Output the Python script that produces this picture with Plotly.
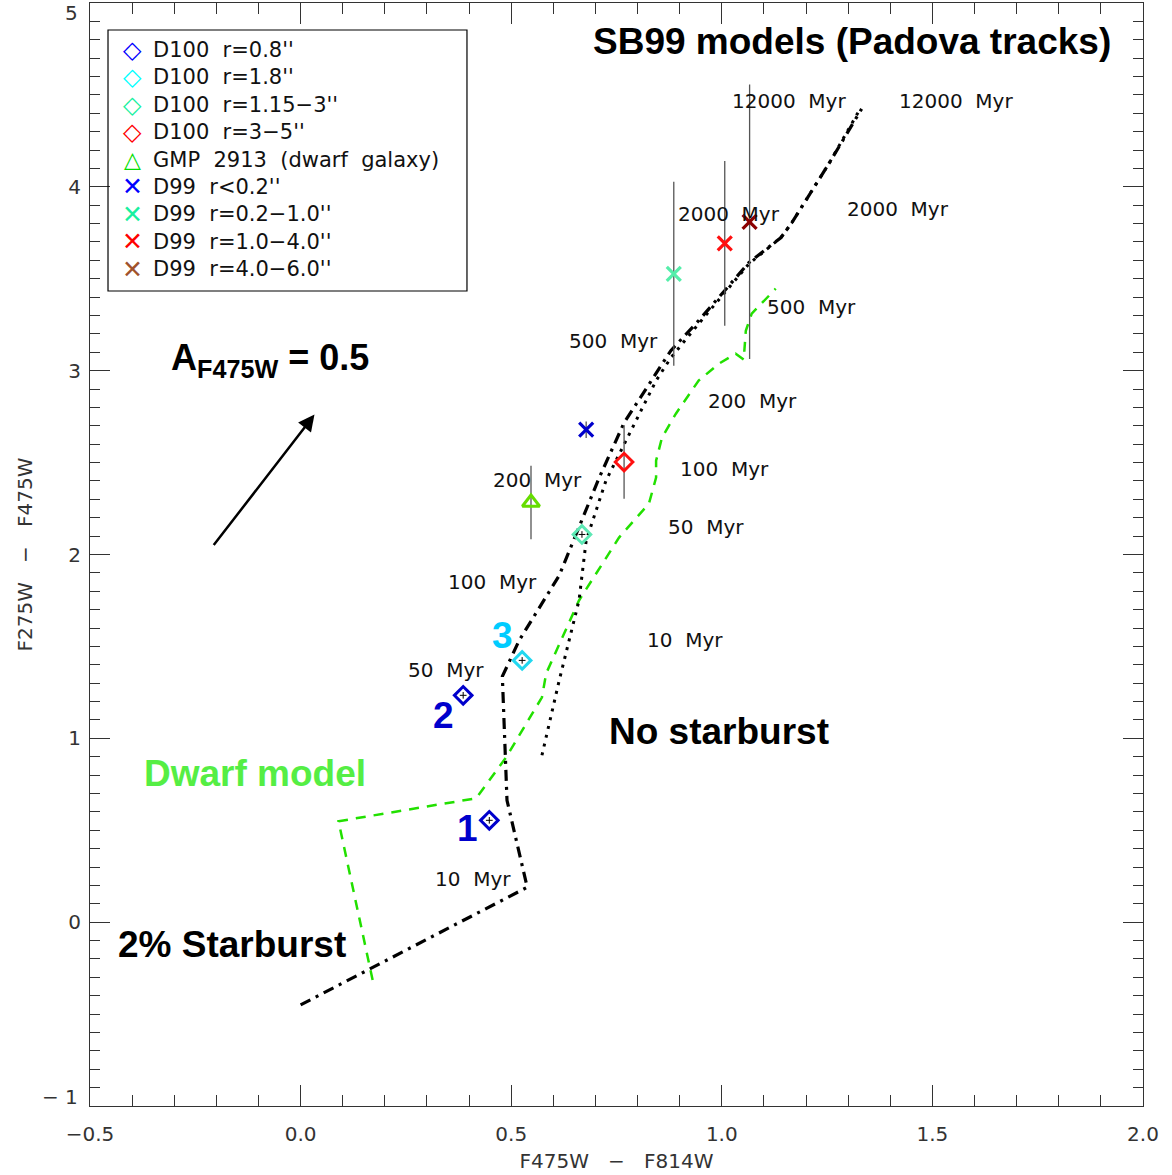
import plotly.graph_objects as go

# ---------------- model tracks ----------------
sb99_x = [0.0, 0.538, 0.49, 0.479, 0.519, 0.614, 0.709, 0.768, 0.879, 0.945, 1.064, 1.14, 1.166, 1.254, 1.332]
sb99_y = [-0.45, 0.19, 0.663, 1.337, 1.533, 1.886, 2.418, 2.717, 3.109, 3.272, 3.587, 3.723, 3.804, 4.125, 4.424]

nosb_x = [0.573, 0.614, 0.661, 0.678, 0.725, 0.773, 0.844, 0.879, 0.945, 1.064, 1.14, 1.166, 1.254, 1.325]
nosb_y = [0.908, 1.315, 1.75, 2.076, 2.402, 2.62, 2.946, 3.07, 3.255, 3.58, 3.723, 3.804, 4.125, 4.41]

dwarf_x = [0.171, 0.09, 0.417, 0.488, 0.573, 0.583, 0.661, 0.756, 0.827, 0.844, 0.844, 0.858, 0.891, 0.945, 0.993, 1.033, 1.052, 1.057, 1.071, 1.128]
dwarf_y = [-0.315, 0.549, 0.674, 0.897, 1.223, 1.353, 1.75, 2.092, 2.277, 2.418, 2.51, 2.636, 2.766, 2.946, 3.038, 3.092, 3.06, 3.217, 3.31, 3.446]

# ---------------- observations ----------------
d100_08_x = [0.448, 0.386]
d100_08_y = [0.554, 1.234]
d100_18_x = [0.526]
d100_18_y = [1.424]
d100_115_x = [0.668]
d100_115_y = [2.109]
d100_35_x = [0.768]
d100_35_y = [2.503]
d100_35_err = [0.2]
gmp_x = [0.547]
gmp_y = [2.283]
gmp_err = [0.2]
d99_a_x = [0.678]
d99_a_y = [2.679]
d99_a_err = [0.045]
d99_b_x = [0.886]
d99_b_y = [3.527]
d99_b_err = [0.5]
d99_c_x = [1.007]
d99_c_y = [3.693]
d99_c_err = [0.448]
d99_d_x = [1.066]
d99_d_y = [3.81]
d99_d_err = [0.747]

# ---------------- labels ----------------
age_labels = ["12000 Myr", "2000 Myr", "500 Myr", "200 Myr", "100 Myr", "50 Myr", "10 Myr"]
age_sb_x = [1.159, 1.017, 0.744, 0.562, 0.455, 0.346, 0.41]
age_sb_y = [4.467, 3.853, 3.163, 2.408, 1.853, 1.37, 0.234]
age_ns_x = [1.555, 1.419, 1.213, 1.073, 1.007, 0.962, 0.912]
age_ns_y = [4.467, 3.88, 3.348, 2.837, 2.467, 2.152, 1.533]

legend_names = ["D100  r=0.8''", "D100  r=1.8''", "D100  r=1.15\u22123''", "D100  r=3\u22125''",
                "GMP  2913  (dwarf  galaxy)", "D99  r<0.2''", "D99  r=0.2\u22121.0''",
                "D99  r=1.0\u22124.0''", "D99  r=4.0\u22126.0''"]
legend_colors = ["#0000FF", "#00FFFF", "#19F0A0", "#FF0000", "#00DD00", "#0000FF", "#19F0A0", "#FF0000", "#A0522D"]
legend_glyphs = ["\u25C7"] * 4 + ["\u25B3"] + ["\u2715"] * 4
legend_glyph_sizes = [24] * 4 + [22] + [25] * 4

y_tick_vals = [0, 1, 2, 3, 4]

LABEL_FONT = "DejaVu Sans"
BIG = "Liberation Sans"

fig = go.Figure()

# model lines
fig.add_trace(go.Scatter(x=dwarf_x, y=dwarf_y, mode="lines", showlegend=False,
                         line=dict(color="#22E000", width=2.5, dash="10px,8px")))
fig.add_trace(go.Scatter(x=nosb_x, y=nosb_y, mode="lines", showlegend=False,
                         line=dict(color="black", width=3, dash="3px,6px")))
fig.add_trace(go.Scatter(x=sb99_x, y=sb99_y, mode="lines", showlegend=False,
                         line=dict(color="black", width=3.2, dash="11px,6px,3px,6px")))

def err(arr):
    return dict(type="data", array=arr, color="#555555", thickness=1.3, width=0)

def tiny():
    return dict(type="constant", value=0.018, color="black", thickness=1, width=0)

def tinyx():
    return dict(type="constant", value=0.008, color="black", thickness=1, width=0)

DS = 13.5
# D100 points
fig.add_trace(go.Scatter(x=d100_08_x, y=d100_08_y, mode="markers", showlegend=False,
                         error_y=tiny(), error_x=tinyx(),
                         marker=dict(symbol="diamond-open", size=DS, color="#0000CC", line=dict(width=3, color="#0000CC"))))
fig.add_trace(go.Scatter(x=d100_18_x, y=d100_18_y, mode="markers", showlegend=False,
                         error_y=tiny(), error_x=tinyx(),
                         marker=dict(symbol="diamond-open", size=DS, color="#22D8F0", line=dict(width=3, color="#22D8F0"))))
fig.add_trace(go.Scatter(x=d100_115_x, y=d100_115_y, mode="markers", showlegend=False,
                         error_y=tiny(), error_x=tinyx(),
                         marker=dict(symbol="diamond-open", size=DS, color="#5CE8B4", line=dict(width=3, color="#5CE8B4"))))
fig.add_trace(go.Scatter(x=d100_35_x, y=d100_35_y, mode="markers", showlegend=False,
                         error_y=err(d100_35_err),
                         marker=dict(symbol="diamond-open", size=DS, color="#FF1010", line=dict(width=3, color="#FF1010"))))
fig.add_trace(go.Scatter(x=gmp_x, y=gmp_y, mode="markers", showlegend=False,
                         error_y=err(gmp_err),
                         marker=dict(symbol="triangle-up-open", size=15, color="#66DD00", line=dict(width=3, color="#66DD00"))))
# D99 points
fig.add_trace(go.Scatter(x=d99_a_x, y=d99_a_y, mode="markers", showlegend=False,
                         error_y=err(d99_a_err),
                         marker=dict(symbol="x-thin-open", size=14, color="#0000CC", line=dict(width=3.2, color="#0000CC"))))
fig.add_trace(go.Scatter(x=d99_b_x, y=d99_b_y, mode="markers", showlegend=False,
                         error_y=err(d99_b_err),
                         marker=dict(symbol="x-thin-open", size=14, color="#55EEAA", line=dict(width=3.2, color="#55EEAA"))))
fig.add_trace(go.Scatter(x=d99_c_x, y=d99_c_y, mode="markers", showlegend=False,
                         error_y=err(d99_c_err),
                         marker=dict(symbol="x-thin-open", size=14, color="#FF1010", line=dict(width=3.2, color="#FF1010"))))
fig.add_trace(go.Scatter(x=d99_d_x, y=d99_d_y, mode="markers", showlegend=False,
                         error_y=err(d99_d_err),
                         marker=dict(symbol="x-thin-open", size=14, color="#8B0000", line=dict(width=3.2, color="#8B0000"))))

# age labels
for lab, x1, y1, x2, y2 in zip(age_labels, age_sb_x, age_sb_y, age_ns_x, age_ns_y):
    t = lab.replace(" ", "\u00a0\u00a0")
    for xx, yy in ((x1, y1), (x2, y2)):
        fig.add_annotation(x=xx, y=yy, text=t, showarrow=False,
                           font=dict(family=LABEL_FONT, size=20, color="#111111"))

fig.add_annotation(x=1.308, y=4.793, text="<b>SB99 models (Padova tracks)</b>", showarrow=False,
                   font=dict(family=BIG, size=37, color="black"))
fig.add_annotation(x=0.993, y=1.038, text="<b>No starburst</b>", showarrow=False,
                   font=dict(family=BIG, size=37, color="black"))
fig.add_annotation(x=-0.109, y=0.81, text="<b>Dwarf model</b>", showarrow=False,
                   font=dict(family=BIG, size=37, color="#55EE44"))
fig.add_annotation(x=-0.164, y=-0.12, text="<b>2% Starburst</b>", showarrow=False,
                   font=dict(family=BIG, size=37, color="black"))
fig.add_annotation(x=-0.073, y=3.06, text="<b>A<sub>F475W</sub> = 0.5</b>", showarrow=False,
                   font=dict(family=BIG, size=36, color="black"))
fig.add_annotation(x=0.396, y=0.511, text="<b>1</b>", showarrow=False,
                   font=dict(family=BIG, size=37, color="#0000CC"))
fig.add_annotation(x=0.339, y=1.125, text="<b>2</b>", showarrow=False,
                   font=dict(family=BIG, size=37, color="#0000CC"))
fig.add_annotation(x=0.479, y=1.56, text="<b>3</b>", showarrow=False,
                   font=dict(family=BIG, size=37, color="#00CCFF"))

# extinction arrow
fig.add_annotation(x=0.033, y=2.761, ax=-0.209, ay=2.043, xref="x", yref="y", axref="x", ayref="y",
                   text="", showarrow=True, arrowhead=2, arrowsize=1.3, arrowwidth=2.5, arrowcolor="black")

# ---- legend box (drawn in paper coordinates) ----
L_X0, L_X1, L_Y0, L_Y1 = 0.0171, 0.358, 0.7389, 0.9755
fig.add_shape(type="rect", xref="paper", yref="paper", x0=L_X0, x1=L_X1, y0=L_Y0, y1=L_Y1,
              line=dict(color="black", width=1.2), fillcolor="rgba(0,0,0,0)")
row_top = 0.9574
row_step = 27.4 / 1103
for i, (name, col, gl, gs) in enumerate(zip(legend_names, legend_colors, legend_glyphs, legend_glyph_sizes)):
    yy = row_top - i * row_step
    fig.add_annotation(xref="paper", yref="paper", x=0.0408, y=yy, text=gl, showarrow=False,
                       xanchor="center", yanchor="middle",
                       font=dict(family=LABEL_FONT, size=gs, color=col))
    fig.add_annotation(xref="paper", yref="paper", x=0.0579, y=yy, text=name.replace("  ", "\u00a0\u00a0"),
                       showarrow=False, xanchor="left", yanchor="middle",
                       font=dict(family=LABEL_FONT, size=21, color="#111111"))

# end tick labels of the y axis (placed inside the range like the original)
fig.add_annotation(xref="paper", yref="y", x=-0.0095, y=5, yshift=-10, text="5", showarrow=False,
                   xanchor="right", yanchor="middle", font=dict(family=LABEL_FONT, size=20, color="#333333"))
fig.add_annotation(xref="paper", yref="y", x=-0.0095, y=-1, yshift=9, text="\u2212\u00a01", showarrow=False,
                   xanchor="right", yanchor="middle", font=dict(family=LABEL_FONT, size=20, color="#333333"))

axis_common = dict(
    showgrid=False, zeroline=False, showline=True, linecolor="#333333", linewidth=1.2,
    mirror="ticks", ticks="inside", tickcolor="#333333", tickwidth=1.2,
    tickfont=dict(family=LABEL_FONT, size=20, color="#333333"),
)

fig.update_layout(
    width=1172, height=1175,
    margin=dict(l=90, r=29, t=3, b=69),
    plot_bgcolor="white", paper_bgcolor="white",
    showlegend=False,
    xaxis=dict(range=[-0.5, 2.0], dtick=0.5, tick0=0, tickformat=".1f", ticklen=21, ticklabelstandoff=10,
               minor=dict(dtick=0.1, ticklen=11, ticks="inside", tickcolor="#333333", tickwidth=1.2),
               title=dict(text="F475W\u00a0\u00a0\u00a0\u2212\u00a0\u00a0\u00a0F814W", standoff=8,
                          font=dict(family=LABEL_FONT, size=20, color="#333333")),
               automargin=False, **axis_common),
    yaxis=dict(range=[-1, 5], tickvals=y_tick_vals, ticklen=20, ticklabelstandoff=4,
               minor=dict(dtick=0.1, ticklen=10, ticks="inside", tickcolor="#333333", tickwidth=1.2),
               title=dict(text="F275W\u00a0\u00a0\u00a0\u2212\u00a0\u00a0\u00a0F475W", standoff=30,
                          font=dict(family=LABEL_FONT, size=20, color="#333333")),
               automargin=False, **axis_common),
)

fig.write_html("out.html", post_script="document.body.style.margin='0px';",
               config={"displayModeBar": False})
